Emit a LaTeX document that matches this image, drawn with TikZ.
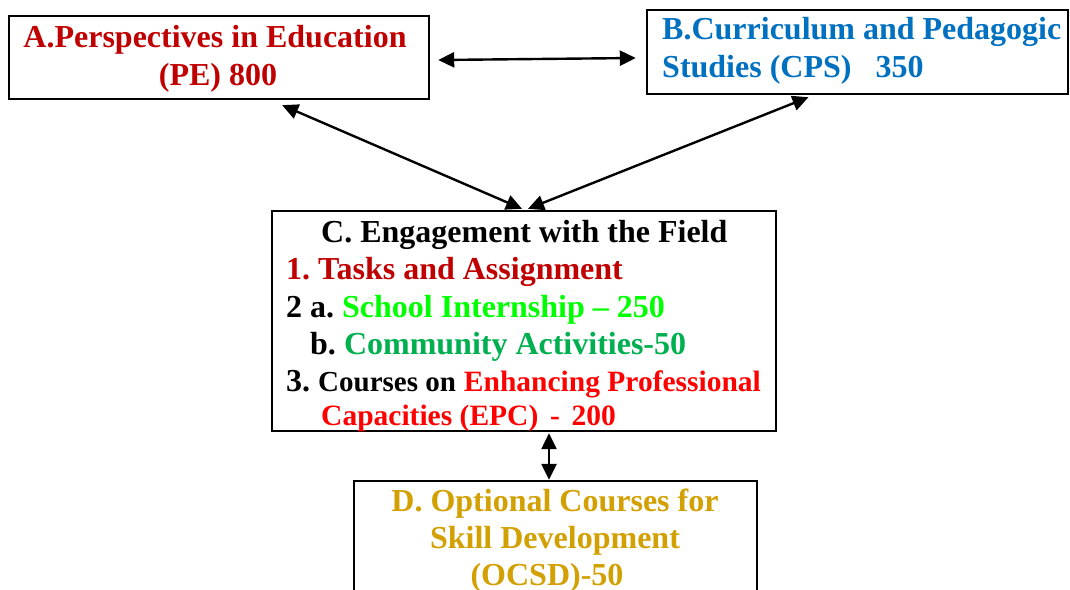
\documentclass[tikz,border=0pt]{standalone}
\usepackage{fontspec}
\setmainfont{Liberation Serif}
\usetikzlibrary{arrows.meta,calc}
\definecolor{peRed}{RGB}{192,0,0}
\definecolor{cpsBlue}{RGB}{0,112,192}
\definecolor{brGreen}{RGB}{0,255,0}
\definecolor{dkGreen}{RGB}{0,176,80}
\definecolor{epcRed}{RGB}{255,0,0}
\definecolor{ocsdGold}{RGB}{210,160,0}
\tikzset{
  box/.style={draw=black, line width=2.4pt, rectangle, inner sep=0pt},
  txt/.style={inner sep=0pt, font=\bfseries\fontsize{32}{38}\selectfont\frenchspacing},
  conn/.style={line width=2.4pt, {Triangle[length=16pt,width=15pt]}-{Triangle[length=16pt,width=15pt]}},
}
\begin{document}
\begin{tikzpicture}[x=1pt,y=-1pt]
\clip (0,0) rectangle (1070,589);
\fill[white] (0,0) rectangle (1070,589);
% boxes
\node[box, minimum width=420pt, minimum height=83pt] (A) at (219,57.5) {};
\node[box, minimum width=421pt, minimum height=84pt] (B) at (857.5,52) {};
\node[box, minimum width=504pt, minimum height=220pt] (C) at (524,321) {};
\node[box, minimum width=403pt, minimum height=160pt] (D) at (555.5,561) {};
% texts
\node[txt, text=peRed, anchor=base] (A1) at (215,47) {A.Perspectives in Education};
\node[txt, text=peRed, anchor=base] (A2) at (218,85) {(PE) 800};
\node[txt, text=cpsBlue, anchor=base west] (B1) at (662,39) {B.Curriculum and Pedagogic};
\node[txt, text=cpsBlue, anchor=base west] (B2) at (662,77) {Studies (CPS)\hspace{0.75em}350};
\node[txt, anchor=base west] (C0) at (321,242) {C. Engagement with the Field};
\node[txt, anchor=base west, text=peRed] (C1) at (286,279.5) {1. Tasks and Assignment};
\node[txt, anchor=base west] (C2) at (286,317) {2 a. \textcolor{brGreen}{School Internship – 250}};
\node[txt, anchor=base west] (C3) at (310,354) {b. \textcolor{dkGreen}{Community Activities-50}};
\node[txt, anchor=base west] (C4) at (286,391) {3. {\fontsize{29}{34}\selectfont Courses on} \textcolor{epcRed}{\fontsize{29.5}{36}\selectfont Enhancing Professional}};
\node[txt, anchor=base west, text=epcRed] (C5) at (321,425) {\fontsize{29.5}{36}\selectfont Capacities (EPC)\hspace{0.4em}-\hspace{0.4em}200};
\node[txt, text=ocsdGold, anchor=base] (D1) at (555,511) {D. Optional Courses for};
\node[txt, text=ocsdGold, anchor=base] (D2) at (555,548) {Skill Development};
\node[txt, text=ocsdGold, anchor=base] (D3) at (547,585) {(OCSD)-50};
% connector end points
\coordinate (ab1) at ([shift={(8,2.5)}]A.east);
\coordinate (ab2) at ([shift={(-10,6)}]B.west);
\coordinate (ac1) at ([shift={(-148,5)}]A.south east);
\coordinate (ca1) at ([shift={(-2,-1)}]C.north);
\coordinate (bc1) at ([shift={(-49,2)}]B.south);
\coordinate (cb1) at ([shift={(4,-1)}]C.north);
\coordinate (cd1) at ([shift={(25,1)}]C.south);
\coordinate (dc1) at ([shift={(-6.5,0)}]D.north);
% connectors
\draw[conn] (ab1) -- (ab2);
\draw[conn] (ac1) -- (ca1);
\draw[conn] (bc1) -- (cb1);
\draw[conn] (cd1) -- (dc1);
\end{tikzpicture}
\end{document}
